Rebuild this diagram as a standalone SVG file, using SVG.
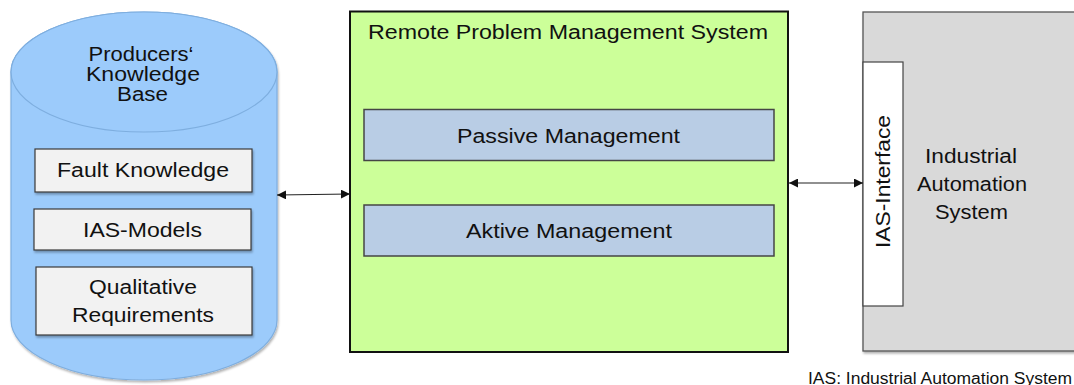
<svg xmlns="http://www.w3.org/2000/svg" width="1074" height="385" viewBox="0 0 1074 385">
  <style>
    text { font-family: "Liberation Sans", Arial, sans-serif; font-size: 20px; fill: #111; text-anchor: middle; }
    .cap { font-size: 16px; }
    .db { fill: #9ccbfb; stroke: #7eaedf; stroke-width: 1.2; }
    .item { fill: #f2f2f2; stroke: #3a3a3a; stroke-width: 1.2; }
    .rpms { fill: #ccff99; stroke: #111; stroke-width: 2; }
    .mgmt { fill: #b9cde5; stroke: #454545; stroke-width: 1.5; }
    .ias { fill: #d9d9d9; stroke: #555; stroke-width: 1.3; }
    .iface { fill: #fff; stroke: #444; stroke-width: 1.2; }
    .conn { stroke: #222; stroke-width: 1.2; fill: none; marker-start: url(#head); marker-end: url(#head); }
  </style>
  <defs>
    <filter id="shadow" x="-5%" y="-5%" width="115%" height="120%">
      <feDropShadow dx="1" dy="2" stdDeviation="1.2" flood-color="#000" flood-opacity="0.3"/>
    </filter>
    <marker id="head" viewBox="0 0 10 10" refX="10" refY="5" markerWidth="9" markerHeight="9" markerUnits="userSpaceOnUse" orient="auto-start-reverse">
      <path d="M0,0 L10,5 L0,10 Z" fill="#111"/>
    </marker>
  </defs>

  <!-- Producers' knowledge base (cylinder) -->
  <g id="knowledge-base">
    <path class="db" filter="url(#shadow)" d="M11,72 L11,320 A133,60 0 0 0 277,320 L277,72 A133,60 0 0 0 11,72 Z"/>
    <ellipse class="db" cx="144" cy="72" rx="133" ry="60"/>
    <text x="141" y="61" textLength="105" lengthAdjust="spacingAndGlyphs">Producers‘</text>
    <text x="143" y="80.5" textLength="114" lengthAdjust="spacingAndGlyphs">Knowledge</text>
    <text x="142.5" y="100.5" textLength="51" lengthAdjust="spacingAndGlyphs">Base</text>
  </g>
  <g id="fault-knowledge">
    <rect class="item" filter="url(#shadow)" x="35" y="149" width="217" height="43"/>
    <text x="143" y="177" textLength="172" lengthAdjust="spacingAndGlyphs">Fault Knowledge</text>
  </g>
  <g id="ias-models">
    <rect class="item" filter="url(#shadow)" x="34" y="209" width="217" height="41"/>
    <text x="142.5" y="237" textLength="119" lengthAdjust="spacingAndGlyphs">IAS-Models</text>
  </g>
  <g id="qualitative-requirements">
    <rect class="item" filter="url(#shadow)" x="36" y="267" width="216" height="68"/>
    <text x="143" y="294" textLength="108" lengthAdjust="spacingAndGlyphs">Qualitative</text>
    <text x="143" y="322" textLength="142" lengthAdjust="spacingAndGlyphs">Requirements</text>
  </g>

  <!-- Remote problem management system -->
  <g id="rpms">
    <rect class="rpms" x="350" y="11.5" width="438" height="340.5"/>
    <text x="568" y="38.5" textLength="400" lengthAdjust="spacingAndGlyphs">Remote Problem Management System</text>
  </g>
  <g id="passive-management">
    <rect class="mgmt" x="364" y="109.5" width="410" height="51"/>
    <text x="568.5" y="143" textLength="223" lengthAdjust="spacingAndGlyphs">Passive Management</text>
  </g>
  <g id="aktive-management">
    <rect class="mgmt" x="364" y="205" width="410" height="51"/>
    <text x="569" y="237.5" textLength="206" lengthAdjust="spacingAndGlyphs">Aktive Management</text>
  </g>

  <!-- Industrial automation system -->
  <g id="ias">
    <rect class="ias" filter="url(#shadow)" x="863" y="12" width="220" height="339"/>
    <text x="971" y="163" textLength="92" lengthAdjust="spacingAndGlyphs">Industrial</text>
    <text x="972" y="191" textLength="110" lengthAdjust="spacingAndGlyphs">Automation</text>
    <text x="971.5" y="218.5" textLength="73" lengthAdjust="spacingAndGlyphs">System</text>
  </g>
  <g id="ias-interface">
    <rect class="iface" x="863" y="62" width="40" height="244"/>
    <text transform="translate(890,181.5) rotate(-90)" x="0" y="0" textLength="133" lengthAdjust="spacingAndGlyphs">IAS-Interface</text>
  </g>

  <!-- Connectors -->
  <g id="connectors">
    <line class="conn" x1="277" y1="195" x2="350" y2="194"/>
    <line class="conn" x1="789" y1="183" x2="863" y2="183"/>
  </g>

  <text class="cap" x="940" y="383.5" textLength="264" lengthAdjust="spacingAndGlyphs">IAS: Industrial Automation System</text>
</svg>
